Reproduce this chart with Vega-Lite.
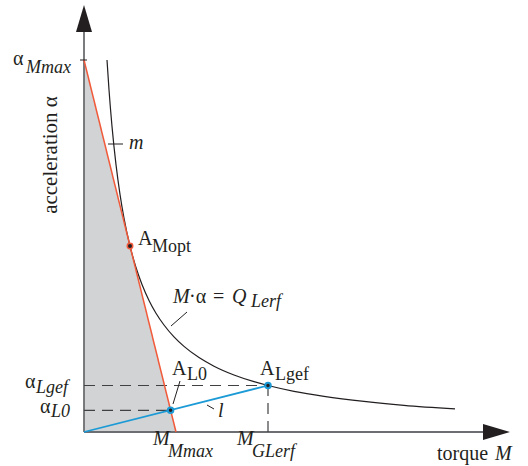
{
  "$schema": "https://vega.github.io/schema/vega-lite/v6.json",
  "width": 528,
  "height": 466,
  "padding": 0,
  "autosize": {"type": "none"},
  "background": "white",
  "config": {"view": {"stroke": null}},
  "datasets": {
    "tri": [{"x": 0, "y": 372}, {"x": 92, "y": 0}],
    "hyp": [
      {"x": 23, "y": 372}, {"x": 25, "y": 342.2}, {"x": 28, "y": 305.6}, {"x": 32, "y": 267.4},
      {"x": 36, "y": 237.7}, {"x": 40, "y": 213.9}, {"x": 46, "y": 186}, {"x": 52, "y": 164.5},
      {"x": 58, "y": 147.5}, {"x": 65, "y": 131.6}, {"x": 72, "y": 118.8}, {"x": 80, "y": 107.0},
      {"x": 90, "y": 95.1}, {"x": 100, "y": 85.6}, {"x": 115, "y": 74.4}, {"x": 130, "y": 65.8},
      {"x": 150, "y": 57.0}, {"x": 170, "y": 50.3}, {"x": 184, "y": 46.5}, {"x": 210, "y": 40.7},
      {"x": 240, "y": 35.7}, {"x": 280, "y": 30.6}, {"x": 320, "y": 26.7}, {"x": 371, "y": 23.1}
    ],
    "axes": [
      {"x": 0, "y": 0, "x2": 0, "y2": 402},
      {"x": 0, "y": 0, "x2": 402, "y2": 0}
    ],
    "red": [{"x": 0, "y": 372, "x2": 92, "y2": 0}],
    "blue": [{"x": 0, "y": 0, "x2": 184, "y2": 46.5}],
    "dashed": [
      {"x": 0, "y": 46.5, "x2": 184, "y2": 46.5},
      {"x": 0, "y": 21.7, "x2": 86.6, "y2": 21.7},
      {"x": 184, "y": 0, "x2": 184, "y2": 46.5}
    ],
    "leaders": [
      {"x": -4, "y": 372, "x2": 3, "y2": 372},
      {"x": 24, "y": 288, "x2": 39, "y2": 288},
      {"x": 87, "y": 106, "x2": 103, "y2": 120},
      {"x": 96, "y": 51, "x2": 89, "y2": 28},
      {"x": 123, "y": 27, "x2": 130, "y2": 23}
    ],
    "upArrow": [{"x": 0, "y": 413.5}],
    "rightArrow": [{"x": 412.5, "y": 0}],
    "redPt": [{"x": 46, "y": 186}],
    "bluePts": [{"x": 86.6, "y": 21.7}, {"x": 184, "y": 46.5}],
    "romanMain": [
      {"x": -71, "y": 367, "t": "α"},
      {"x": 54, "y": 187, "t": "A"},
      {"x": 88, "y": 57, "t": "A"},
      {"x": 176, "y": 57, "t": "A"},
      {"x": -59, "y": 44, "t": "α"},
      {"x": -44, "y": 19, "t": "α"},
      {"x": 105, "y": 129, "t": "·α"},
      {"x": 129, "y": 129, "t": "="},
      {"x": 353, "y": -28, "t": "torque"}
    ],
    "italicMain": [
      {"x": 45, "y": 283, "t": "m"},
      {"x": 89, "y": 129, "t": "M"},
      {"x": 148, "y": 129, "t": "Q"},
      {"x": 134, "y": 15, "t": "l"},
      {"x": 69, "y": -13, "t": "M"},
      {"x": 153, "y": -13, "t": "M"},
      {"x": 411, "y": -28, "t": "M"}
    ],
    "italicSub": [
      {"x": -58, "y": 359, "t": "Mmax"},
      {"x": -48, "y": 39, "t": "Lgef"},
      {"x": -33, "y": 15, "t": "L0"},
      {"x": 167, "y": 125, "t": "Lerf"},
      {"x": 84, "y": -25, "t": "Mmax"},
      {"x": 168, "y": -25, "t": "GLerf"}
    ],
    "romanSub": [
      {"x": 68, "y": 180, "t": "Mopt"},
      {"x": 103, "y": 52, "t": "L0"},
      {"x": 191, "y": 52, "t": "Lgef"}
    ],
    "ylabel": [{"x": -27, "y": 277, "t": "acceleration α"}]
  },
  "encoding": {
    "x": {"field": "x", "type": "quantitative", "scale": {"domain": [-84, 444], "nice": false, "zero": false}, "axis": null},
    "y": {"field": "y", "type": "quantitative", "scale": {"domain": [-34, 432], "nice": false, "zero": false}, "axis": null}
  },
  "layer": [
    {
      "data": {"name": "tri"},
      "mark": {"type": "area", "color": "#d1d3d4"},
      "encoding": {"y2": {"datum": 0}}
    },
    {
      "data": {"name": "axes"},
      "mark": {"type": "rule", "color": "#6d6e71", "strokeWidth": 1.8},
      "encoding": {"x2": {"field": "x2"}, "y2": {"field": "y2"}}
    },
    {
      "data": {"name": "upArrow"},
      "mark": {"type": "point", "shape": "M0,-1L0.593,1L-0.593,1Z", "filled": true, "size": 729, "color": "#231f20", "opacity": 1, "strokeWidth": 0}
    },
    {
      "data": {"name": "rightArrow"},
      "mark": {"type": "point", "shape": "M1,0L-1,-0.593L-1,0.593Z", "filled": true, "size": 729, "color": "#231f20", "opacity": 1, "strokeWidth": 0}
    },
    {
      "data": {"name": "dashed"},
      "mark": {"type": "rule", "color": "#414042", "strokeWidth": 1.2, "strokeDash": [11, 7]},
      "encoding": {"x2": {"field": "x2"}, "y2": {"field": "y2"}}
    },
    {
      "data": {"name": "hyp"},
      "mark": {"type": "line", "color": "#231f20", "strokeWidth": 1.2, "interpolate": "monotone"},
      "encoding": {"order": {"field": "x"}}
    },
    {
      "data": {"name": "red"},
      "mark": {"type": "rule", "color": "#f15a3a", "strokeWidth": 1.5},
      "encoding": {"x2": {"field": "x2"}, "y2": {"field": "y2"}}
    },
    {
      "data": {"name": "blue"},
      "mark": {"type": "rule", "color": "#1b9ad6", "strokeWidth": 1.8},
      "encoding": {"x2": {"field": "x2"}, "y2": {"field": "y2"}}
    },
    {
      "data": {"name": "leaders"},
      "mark": {"type": "rule", "color": "#231f20", "strokeWidth": 1},
      "encoding": {"x2": {"field": "x2"}, "y2": {"field": "y2"}}
    },
    {
      "data": {"name": "redPt"},
      "mark": {"type": "point", "shape": "circle", "filled": true, "size": 30, "fill": "#231f20", "stroke": "#f15a3a", "strokeWidth": 1.5, "opacity": 1}
    },
    {
      "data": {"name": "bluePts"},
      "mark": {"type": "point", "shape": "circle", "filled": true, "size": 30, "fill": "#231f20", "stroke": "#1b9ad6", "strokeWidth": 2, "opacity": 1}
    },
    {
      "data": {"name": "romanMain"},
      "mark": {"type": "text", "font": "Liberation Serif", "fontSize": 20, "align": "left", "baseline": "alphabetic", "color": "#231f20"},
      "encoding": {"text": {"field": "t"}}
    },
    {
      "data": {"name": "italicMain"},
      "mark": {"type": "text", "font": "Liberation Serif", "fontStyle": "italic", "fontSize": 20, "align": "left", "baseline": "alphabetic", "color": "#231f20"},
      "encoding": {"text": {"field": "t"}}
    },
    {
      "data": {"name": "italicSub"},
      "mark": {"type": "text", "font": "Liberation Serif", "fontStyle": "italic", "fontSize": 18, "align": "left", "baseline": "alphabetic", "color": "#231f20"},
      "encoding": {"text": {"field": "t"}}
    },
    {
      "data": {"name": "romanSub"},
      "mark": {"type": "text", "font": "Liberation Serif", "fontSize": 18, "align": "left", "baseline": "alphabetic", "color": "#231f20"},
      "encoding": {"text": {"field": "t"}}
    },
    {
      "data": {"name": "ylabel"},
      "mark": {"type": "text", "font": "Liberation Serif", "fontSize": 21, "align": "center", "baseline": "alphabetic", "angle": 270, "color": "#231f20"},
      "encoding": {"text": {"field": "t"}}
    }
  ]
}
